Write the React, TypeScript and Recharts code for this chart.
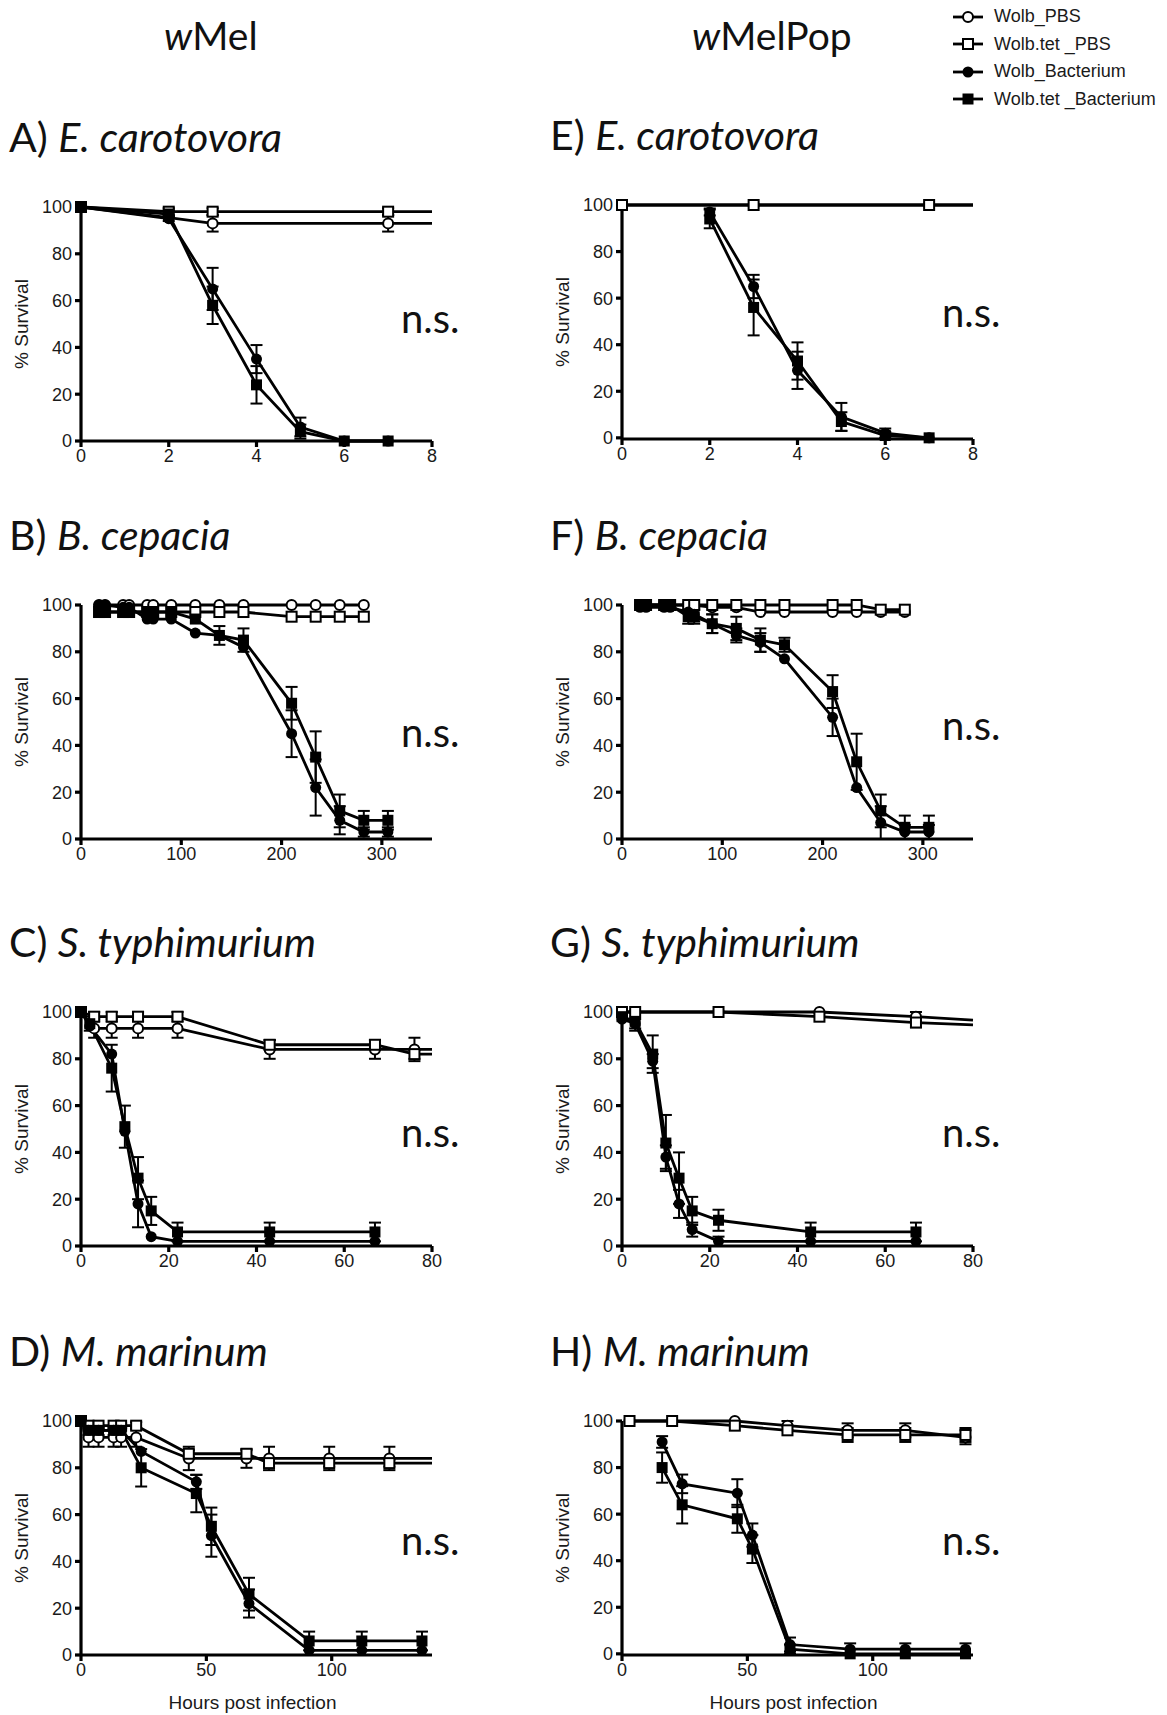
import React from "react";
import { LineChart, Line, XAxis, YAxis, ErrorBar } from "recharts";

// [x, y, err, showDot(0 = hidden)]
type Pt = [number, number, number?, number?];

const SERIES_NAMES = ["Wolb_PBS", "Wolb.tet _PBS", "Wolb_Bacterium", "Wolb.tet _Bacterium"];
const KINDS = ["oc", "os", "fc", "fs"];

const Y_TICKS = [0, 20, 40, 60, 80, 100];
const TICKS_CARO = [0, 2, 4, 6, 8];
const TICKS_CEP = [0, 100, 200, 300];
const TICKS_TYPH = [0, 20, 40, 60, 80];
const TICKS_MAR = [0, 50, 100];

// A) wMel E. carotovora
const A_PBS: Pt[] = [[0, 100], [2, 95.5], [3, 93, 3.5], [7, 93, 3.5], [8, 93, 0, 0]];
const A_TET_PBS: Pt[] = [[0, 100], [2, 98, 1.5], [3, 98, 1.5], [7, 98, 1.5], [8, 98, 0, 0]];
const A_BAC: Pt[] = [[0, 100], [2, 95, 1], [3, 65, 9], [4, 35, 6], [5, 6, 4], [6, 0], [7, 0]];
const A_TET_BAC: Pt[] = [[0, 100], [2, 97, 1.5], [3, 58, 8], [4, 24, 8], [5, 4, 3], [6, 0], [7, 0]];

// E) wMelPop E. carotovora
const E_PBS: Pt[] = [[0, 100], [3, 100], [7, 100], [8, 100, 0, 0]];
const E_TET_PBS: Pt[] = [[0, 100], [3, 100], [7, 100], [8, 100, 0, 0]];
const E_BAC: Pt[] = [[2, 97, 1.5], [3, 65, 5], [4, 29, 8], [5, 9, 6], [6, 2, 2], [7, 0]];
const E_TET_BAC: Pt[] = [[2, 94, 4], [3, 56, 12], [4, 33, 8], [5, 7, 4], [6, 1, 1.5], [7, 0]];

// B) wMel B. cepacia
const B_PBS: Pt[] = [[18, 100], [24, 100], [42, 100], [48, 100], [66, 100], [72, 100], [90, 100], [114, 100], [138, 100], [162, 100], [210, 100], [234, 100], [258, 100], [282, 100]];
const B_TET_PBS: Pt[] = [[18, 97], [24, 97], [42, 97], [48, 97], [66, 97], [72, 97], [90, 97], [114, 97], [138, 97], [162, 97], [210, 95], [234, 95], [258, 95], [282, 95]];
const B_BAC: Pt[] = [[18, 100], [24, 100], [42, 99], [48, 99], [66, 94], [72, 94], [90, 94], [114, 88], [138, 87], [162, 82], [210, 45, 10], [234, 22, 12], [258, 8, 6], [282, 3, 2], [306, 3, 2]];
const B_TET_BAC: Pt[] = [[18, 97], [24, 97], [42, 97], [48, 97], [66, 97], [72, 97], [90, 97], [114, 94], [138, 87, 4], [162, 85, 5], [210, 58, 7], [234, 35, 11], [258, 12, 7], [282, 8, 4], [306, 8, 4]];

// F) wMelPop B. cepacia
const F_PBS: Pt[] = [[18, 100], [24, 100], [42, 100], [48, 100], [66, 100], [72, 100], [90, 99], [114, 99], [138, 97], [162, 97], [210, 97], [234, 97], [258, 97], [282, 97]];
const F_TET_PBS: Pt[] = [[18, 100], [24, 100], [42, 100], [48, 100], [66, 100], [72, 100], [90, 100], [114, 100], [138, 100], [162, 100], [210, 100], [234, 100], [258, 98], [282, 98]];
const F_BAC: Pt[] = [[18, 99], [24, 99], [42, 99], [48, 99], [66, 97], [72, 96, 3], [90, 92, 4], [114, 87, 3], [138, 84, 4], [162, 77], [210, 52, 8], [234, 22], [258, 7, 7], [282, 3, 3], [306, 3, 3]];
const F_TET_BAC: Pt[] = [[18, 100], [24, 100], [42, 100], [48, 100], [66, 95, 3], [72, 95, 3], [90, 92, 4], [114, 90, 5], [138, 85, 5], [162, 83, 3], [210, 63, 7], [234, 33, 12], [258, 12, 7], [282, 5, 5], [306, 5, 5]];

// C) wMel S. typhimurium
const C_PBS: Pt[] = [[0, 100], [3, 93, 4], [7, 93, 4], [13, 93, 4], [22, 93, 4], [43, 84, 4], [67, 84, 4], [76, 84, 5], [80, 84, 0, 0]];
const C_TET_PBS: Pt[] = [[0, 100], [3, 98, 2], [7, 98, 2], [13, 98, 2], [22, 98, 2], [43, 86, 2], [67, 86, 2], [76, 82, 2], [80, 82, 0, 0]];
const C_BAC: Pt[] = [[0, 100], [2, 94], [7, 82], [10, 49], [13, 18, 10], [16, 4], [22, 2], [43, 2], [67, 2]];
const C_TET_BAC: Pt[] = [[0, 100], [2, 95, 3], [7, 76, 10], [10, 51, 9], [13, 29, 9], [16, 15, 6], [22, 6, 4], [43, 6, 4], [67, 6, 4]];

// G) wMelPop S. typhimurium
const G_PBS: Pt[] = [[0, 100], [3, 100], [22, 100], [45, 100], [67, 98, 2], [80, 96.5, 0, 0]];
const G_TET_PBS: Pt[] = [[0, 100], [3, 100], [22, 100], [45, 98], [67, 95.5, 2], [80, 94.5, 0, 0]];
const G_BAC: Pt[] = [[0, 97], [3, 95, 2], [7, 79, 3], [10, 38, 5], [13, 18, 6], [16, 7, 3], [22, 2, 2], [43, 2], [67, 2]];
const G_TET_BAC: Pt[] = [[0, 98], [3, 96, 4], [7, 82, 8], [10, 44, 12], [13, 29, 11], [16, 15, 6], [22, 11, 4.5], [43, 6, 4], [67, 6, 4]];

// D) wMel M. marinum
const D_PBS: Pt[] = [[0, 100], [3, 93, 4], [7, 93, 4], [13, 93, 4], [16, 93, 4], [22, 93, 4], [43, 84, 5], [66, 84, 4], [75, 84, 5], [99, 84, 5], [123, 84, 5], [140, 84, 0, 0]];
const D_TET_PBS: Pt[] = [[0, 100], [3, 98, 1.5], [7, 98], [13, 98], [16, 98], [22, 98, 1.5], [43, 86, 1.5], [66, 86, 1.5], [75, 82, 1.5], [99, 82, 1.5], [123, 82, 1.5], [140, 82, 0, 0]];
const D_BAC: Pt[] = [[0, 100], [3, 96], [7, 96], [13, 96], [16, 96, 3], [24, 87], [46, 74, 3], [52, 51, 9], [67, 22, 6], [91, 2], [112, 2], [136, 2]];
const D_TET_BAC: Pt[] = [[0, 100], [3, 96, 2], [7, 96, 2], [13, 96, 2], [16, 96, 2], [24, 80, 8], [46, 69, 8], [52, 55, 8], [67, 26, 7], [91, 6, 4], [112, 6, 4], [136, 6, 4]];

// H) wMelPop M. marinum
const H_PBS: Pt[] = [[3, 100], [20, 100], [45, 100], [66, 98, 2], [90, 96, 3], [113, 96, 3], [137, 93, 3]];
const H_TET_PBS: Pt[] = [[3, 100], [20, 100], [45, 98], [66, 96], [90, 94, 3], [113, 94, 3], [137, 94, 3]];
const H_BAC: Pt[] = [[16, 91, 2.5], [24, 73, 4], [46, 69, 6], [52, 51, 5], [67, 4, 3], [91, 2, 2.5], [113, 2, 2.5], [137, 2, 2.5]];
const H_TET_BAC: Pt[] = [[16, 80, 6.5], [24, 64, 8], [46, 58, 6], [52, 45, 6], [67, 2, 2], [91, 0], [113, 0], [137, 0]];

const PLOT_W = 351;
const PLOT_H = 234;
const Y_AXIS_W = 81;
const M_TOP = 12;
const M_RIGHT = 28;
const X_AXIS_H = 34;

type PanelDef = {
  letter: string;
  species: string;
  left: number;
  top: number;
  domain: [number, number];
  ticks: number[];
  series: Pt[][];
  nsBase: number;
  xLabel?: boolean;
};

const PANELS: PanelDef[] = [
  { letter: "A)", species: "E. carotovora", left: 0, top: 207, domain: [0, 8], ticks: TICKS_CARO, series: [A_PBS, A_TET_PBS, A_BAC, A_TET_BAC], nsBase: 333 },
  { letter: "B)", species: "B. cepacia", left: 0, top: 605, domain: [0, 350], ticks: TICKS_CEP, series: [B_PBS, B_TET_PBS, B_BAC, B_TET_BAC], nsBase: 747 },
  { letter: "C)", species: "S. typhimurium", left: 0, top: 1012, domain: [0, 80], ticks: TICKS_TYPH, series: [C_PBS, C_TET_PBS, C_BAC, C_TET_BAC], nsBase: 1147 },
  { letter: "D)", species: "M. marinum", left: 0, top: 1421, domain: [0, 140], ticks: TICKS_MAR, series: [D_PBS, D_TET_PBS, D_BAC, D_TET_BAC], nsBase: 1555, xLabel: true },
  { letter: "E)", species: "E. carotovora", left: 541, top: 205, domain: [0, 8], ticks: TICKS_CARO, series: [E_PBS, E_TET_PBS, E_BAC, E_TET_BAC], nsBase: 327 },
  { letter: "F)", species: "B. cepacia", left: 541, top: 605, domain: [0, 350], ticks: TICKS_CEP, series: [F_PBS, F_TET_PBS, F_BAC, F_TET_BAC], nsBase: 740 },
  { letter: "G)", species: "S. typhimurium", left: 541, top: 1012, domain: [0, 80], ticks: TICKS_TYPH, series: [G_PBS, G_TET_PBS, G_BAC, G_TET_BAC], nsBase: 1147 },
  { letter: "H)", species: "M. marinum", left: 541, top: 1421, domain: [0, 140], ticks: TICKS_MAR, series: [H_PBS, H_TET_PBS, H_BAC, H_TET_BAC], nsBase: 1555, xLabel: true },
];

const ARIAL = "'Liberation Sans', Arial, sans-serif";
const TITLE_FONT = "Lato, 'Open Sans', sans-serif";

function Marker({ kind, cx, cy }: { kind: string; cx: number; cy: number }) {
  if (kind === "oc") return <circle cx={cx} cy={cy} r={5} fill="#fff" stroke="#000" strokeWidth={2} />;
  if (kind === "os") return <rect x={cx - 5} y={cy - 5} width={10} height={10} fill="#fff" stroke="#000" strokeWidth={2} />;
  if (kind === "fc") return <circle cx={cx} cy={cy} r={5.5} fill="#000" />;
  return <rect x={cx - 5.5} y={cy - 5.5} width={11} height={11} fill="#000" />;
}

const dotFor = (kind: string) => (props: any) => {
  const { cx, cy, payload, index } = props;
  if (cx == null || cy == null || payload.hide) return <g key={`h${index}`} />;
  return <Marker key={`m${index}`} kind={kind} cx={cx} cy={cy} />;
};

const toData = (pts: Pt[]) =>
  pts.map(([x, y, e, d]) => ({ x, y, e: e ?? 0, hide: d === 0 }));

const tickStyle = { fontSize: 18, fill: "#1a1a1a", fontFamily: ARIAL };
const axisStroke = { stroke: "#000", strokeWidth: 3.2 };

function Panel({ p }: { p: PanelDef }) {
  const plotLeft = p.left + Y_AXIS_W;
  return (
    <>
      <div style={{ position: "absolute", left: p.left, top: p.top - M_TOP }}>
        <LineChart
          width={Y_AXIS_W + PLOT_W + M_RIGHT}
          height={M_TOP + PLOT_H + X_AXIS_H}
          margin={{ top: M_TOP, right: M_RIGHT, bottom: 0, left: 0 }}
        >
          <XAxis
            type="number"
            dataKey="x"
            domain={p.domain}
            ticks={p.ticks}
            interval={0}
            height={X_AXIS_H}
            tick={tickStyle}
            tickSize={6}
            tickMargin={2}
            axisLine={axisStroke}
            tickLine={axisStroke}
          />
          <YAxis
            type="number"
            domain={[0, 100]}
            ticks={Y_TICKS}
            interval={0}
            width={Y_AXIS_W}
            tick={tickStyle}
            tickSize={6}
            tickMargin={3}
            axisLine={axisStroke}
            tickLine={axisStroke}
          />
          {p.series.map((s, i) => (
            <Line
              key={SERIES_NAMES[i]}
              name={SERIES_NAMES[i]}
              data={toData(s)}
              dataKey="y"
              type="linear"
              stroke="#000"
              strokeWidth={2.8}
              dot={dotFor(KINDS[i])}
              activeDot={false}
              isAnimationActive={false}
            >
              <ErrorBar dataKey="e" direction="y" width={6} strokeWidth={2} stroke="#000" />
            </Line>
          ))}
        </LineChart>
      </div>
      <div
        style={{
          position: "absolute",
          left: p.left + 9,
          top: p.top - 91,
          fontFamily: TITLE_FONT,
          fontSize: 41,
          lineHeight: 1,
          whiteSpace: "nowrap",
          color: "#111",
        }}
      >
        {p.letter} <i>{p.species}</i>
      </div>
      <div
        style={{
          position: "absolute",
          left: p.left + 22,
          top: p.top + PLOT_H / 2,
          transform: "translate(-50%, -50%) rotate(-90deg)",
          fontFamily: ARIAL,
          fontSize: 19,
          whiteSpace: "nowrap",
          color: "#1a1a1a",
        }}
      >
        % Survival
      </div>
      <div
        style={{
          position: "absolute",
          left: plotLeft + 320,
          top: p.nsBase - 35,
          fontFamily: TITLE_FONT,
          fontSize: 40,
          lineHeight: 1,
          color: "#111",
        }}
      >
        n.s.
      </div>
      {p.xLabel && (
        <div
          style={{
            position: "absolute",
            left: plotLeft + PLOT_W / 2 - 4,
            top: 1703,
            transform: "translate(-50%, -50%)",
            fontFamily: ARIAL,
            fontSize: 19,
            whiteSpace: "nowrap",
            color: "#1a1a1a",
          }}
        >
          Hours post infection
        </div>
      )}
    </>
  );
}

function Legend() {
  return (
    <div style={{ position: "absolute", left: 951, top: 3 }}>
      {SERIES_NAMES.map((n, i) => (
        <div key={n} style={{ display: "flex", alignItems: "center", height: 27.5 }}>
          <svg width={34} height={14}>
            <line x1={2} y1={7} x2={32} y2={7} stroke="#000" strokeWidth={2.8} />
            <Marker kind={KINDS[i]} cx={17} cy={7} />
          </svg>
          <span style={{ marginLeft: 9, fontFamily: ARIAL, fontSize: 18, color: "#1a1a1a" }}>{n}</span>
        </div>
      ))}
    </div>
  );
}

export default function App() {
  return (
    <div style={{ position: "absolute", left: 0, top: 0, width: 1167, height: 1715, background: "#fff", overflow: "hidden" }}>
      <div style={{ position: "absolute", left: 164, top: 16, fontFamily: TITLE_FONT, fontSize: 39, lineHeight: 1, color: "#111" }}>
        <i>w</i>Mel
      </div>
      <div style={{ position: "absolute", left: 692, top: 16, fontFamily: TITLE_FONT, fontSize: 39, lineHeight: 1, color: "#111" }}>
        <i>w</i>MelPop
      </div>
      <Legend />
      {PANELS.map((p) => (
        <Panel key={p.letter} p={p} />
      ))}
    </div>
  );
}
